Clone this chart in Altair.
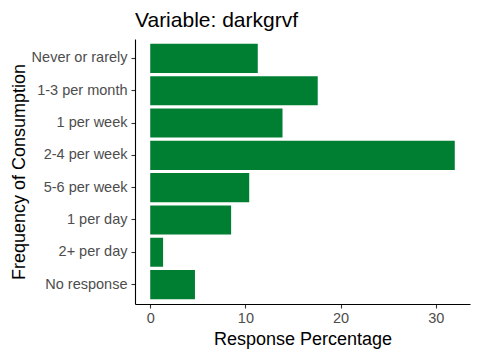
import altair as alt
import pandas as pd

categories = ["Never or rarely", "1-3 per month", "1 per week", "2-4 per week",
              "5-6 per week", "1 per day", "2+ per day", "No response"]
percentages = [11.3, 17.6, 13.9, 32.0, 10.4, 8.5, 1.35, 4.7]
x_ticks = [0, 10, 20, 30]

df = pd.DataFrame({"freq": categories, "pct": percentages})

FONT = "Liberation Sans"

chart = alt.Chart(df).mark_bar(color="#007F33").encode(
    x=alt.X("pct:Q",
            scale=alt.Scale(domain=[-1.6, 33.6], nice=False, zero=False),
            axis=alt.Axis(title="Response Percentage", values=x_ticks, grid=False,
                          tickSize=4, labelPadding=3, titlePadding=6)),
    x2=alt.datum(0),
    y=alt.Y("freq:N", sort=categories,
            scale=alt.Scale(paddingInner=0.1, paddingOuter=0.15),
            axis=alt.Axis(title="Frequency of Consumption", grid=False,
                          tickSize=4, labelPadding=4, titlePadding=3)),
).properties(
    width=335,
    height=265,
    title=alt.TitleParams("Variable: darkgrvf", anchor="start", frame="group",
                          font=FONT, fontSize=21, fontWeight="normal",
                          color="black", offset=8),
    autosize=alt.AutoSizeParams(type="none"),
    padding={"left": 127, "top": 31, "right": 2, "bottom": 48},
).configure_view(
    stroke=None
).configure_axis(
    domainColor="black", domainWidth=1.1, tickColor="#333333", tickWidth=1.1,
    labelFont=FONT, labelFontSize=14.5, labelColor="#4D4D4D",
    titleFont=FONT, titleFontSize=18, titleFontWeight="normal", titleColor="black",
    labelLimit=300
)

chart.save("out.html", embed_options={"renderer": "svg", "actions": False})
